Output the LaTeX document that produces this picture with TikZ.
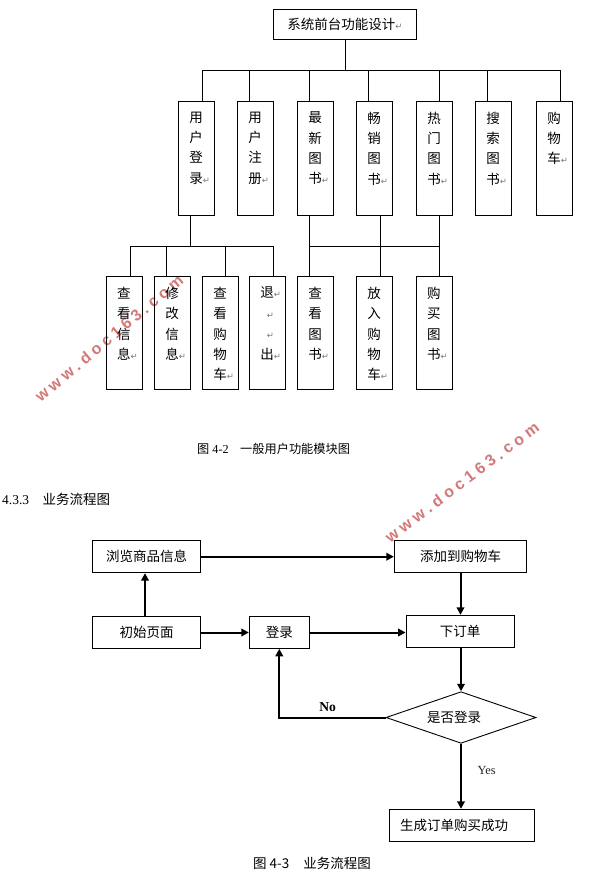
\documentclass[tikz,border=0pt]{standalone}
\usepackage{fontspec}
\setmainfont{Liberation Serif}
\newfontfamily\cjk{Noto Sans CJK SC}
\newfontfamily\symf{DejaVu Sans}
\newfontfamily\wmf[LetterSpace=26]{Liberation Sans}
\usetikzlibrary{arrows.meta,shapes.geometric}
\definecolor{retgray}{RGB}{120,120,120}
\definecolor{wmpink}{RGB}{212,120,120}
\newcommand{\ret}{{\symf\fontsize{8.5}{8.5}\selectfont\textcolor{retgray}{↵}}}
\newcommand{\mkvb}[5]{%
  \node[tbox,minimum height=#4pt] (#1) at (#2,#3) {};
  \node[vt] (#1t) at ([xshift=10.8pt,yshift=-10.5pt]#1.north west) {#5};}
\begin{document}
\begin{tikzpicture}[x=1pt,y=-1pt,
  tbox/.style={draw,line width=0.9pt,inner sep=0pt,anchor=north west,minimum width=36pt},
  vt/.style={inner sep=0pt,anchor=north west,align=left,font=\cjk\fontsize{13.5}{20.4}\selectfont},
  tline/.style={line width=0.9pt},
  fbox/.style={draw,line width=0.9pt,inner sep=0pt,font=\cjk\fontsize{13.5}{16}\selectfont},
  farrow/.style={line width=2pt,-{Triangle[length=7.5pt,width=7.5pt]}},
  captxt/.style={inner sep=0pt,anchor=west},
  wm/.style={text=wmpink,inner sep=0pt,font=\wmf\bfseries\fontsize{16}{16}\selectfont}]
\fill[white] (0,0) rectangle (600,896);
\useasboundingbox (0,0) rectangle (600,896);

% watermarks
\node[wm,rotate=40] (wm1) at (109,338) {www.doc163.com};
\node[wm,rotate=37] (wm2) at (462,482) {www.doc163.com};

% ---------- module tree ----------
\node[draw,line width=0.9pt,inner sep=0pt,minimum width=143.4pt,minimum height=30pt,
      font=\cjk\fontsize{13.5}{16}\selectfont] (top) at (345,24.3) {系统前台功能设计\ret};

\mkvb{u1}{178.3}{101}{114}{用\\户\\登\\录\ret}
\mkvb{u2}{237.3}{101}{114}{用\\户\\注\\册\ret}
\mkvb{u3}{297.3}{101}{114}{最\\新\\图\\书\ret}
\mkvb{u4}{356.3}{101}{114}{畅\\销\\图\\书\ret}
\mkvb{u5}{416.3}{101}{114}{热\\门\\图\\书\ret}
\mkvb{u6}{475.3}{101}{114}{搜\\索\\图\\书\ret}
\mkvb{u7}{536.3}{101}{114}{购\\物\\车\ret}

\mkvb{l1}{106}{276.3}{113}{查\\看\\信\\息\ret}
\mkvb{l2}{154.3}{276.3}{113}{修\\改\\信\\息\ret}
\mkvb{l3}{202.3}{276.3}{113}{查\\看\\购\\物\\车\ret}
\mkvb{l4}{249.3}{276.3}{113}{退\ret\\\hspace*{6.5pt}\ret\\\hspace*{6.5pt}\ret\\出\ret}
\mkvb{l5}{297.3}{276.3}{113}{查\\看\\图\\书\ret}
\mkvb{l6}{356.3}{276.3}{113}{放\\入\\购\\物\\车\ret}
\mkvb{l7}{416}{276.3}{113}{购\\买\\图\\书\ret}

% upper bus
\coordinate (busL) at (202.3,70.3);
\coordinate (busR) at (560.7,70.3);
\draw[tline] (top.south) -- (top.south |- busL);
\draw[tline] (busL) -- (busR);
\foreach \n/\x in {u1/202.3,u2/249.3,u3/309,u4/368.7,u5/439.3,u6/487.7,u7/560.7}{
  \coordinate (j\n) at (\x,70.3);
  \draw[tline] (j\n) -- (j\n |- \n.north);
}
% lower left bus
\coordinate (kU) at (190.7,246);
\coordinate (kL) at (130.7,246);
\coordinate (kR) at (273.7,246);
\draw[tline] (kU |- u1.south) -- (kU);
\draw[tline] (kL) -- (kR);
\foreach \n/\x in {l1/130.7,l2/166.7,l3/225.3,l4/273.7}{
  \coordinate (k\n) at (\x,246);
  \draw[tline] (k\n) -- (k\n |- \n.north);
}
% lower right bus
\coordinate (mL) at (309.2,246);
\coordinate (mR) at (439.3,246);
\draw[tline] (mL) -- (mR);
\foreach \u/\l/\x in {u3/l5/309.2,u4/l6/380.3,u5/l7/439.3}{
  \coordinate (m\l) at (\x,246);
  \draw[tline] (m\l |- \u.south) -- (m\l |- \l.north);
}

% captions
\node[captxt,font=\fontsize{12.2}{14}\selectfont] (cap1) at (197,449) {{\cjk 图} 4-2\hspace{11.5pt}{\cjk 一般用户功能模块图}};
\node[captxt,font=\fontsize{13.5}{15}\selectfont] (h433) at (2,499) {4.3.3\hspace{13.5pt}{\cjk 业务流程图}};

% ---------- flow chart ----------
\node[fbox,minimum width=108.4pt,minimum height=32pt] (br) at (146.5,556.7) {浏览商品信息};
\node[fbox,minimum width=132.4pt,minimum height=32pt] (add) at (460.5,556.7) {添加到购物车};
\node[fbox,minimum width=108.4pt,minimum height=31.6pt] (init) at (146.5,632.5) {初始页面};
\node[fbox,minimum width=60pt,minimum height=31.6pt] (login) at (279.3,632.5) {登录};
\node[fbox,minimum width=108.3pt,minimum height=32pt] (order) at (460.2,631.3) {下订单};
\node[fbox,diamond,aspect=2.9,minimum width=150pt,minimum height=51.6pt] (dia) at (461,717.5) {是否登录\hspace*{14pt}};
\node[fbox,minimum width=144.7pt,minimum height=32.4pt] (gen) at (461.7,825.5) {生成订单购买成功\hspace*{15pt}};

\draw[farrow] (br.east) -- (add.west);
\draw[farrow] ([xshift=-1.5pt]init.north) -- ([xshift=-1.5pt]br.south);
\draw[farrow] (init.east) -- (login.west);
\draw[farrow] (login.east) -- (login.east -| order.west);
\draw[farrow] (add.south) -- (add.south |- order.north);
\draw[farrow] (order.south -| dia.north) -- (dia.north);
\draw[farrow] (dia.south) -- (dia.south |- gen.north);
\draw[farrow] (dia.west) -| (login.south);

\node[font=\bfseries\fontsize{13.6}{14}\selectfont,inner sep=0pt] (no) at (327.7,706.7) {No};
\node[font=\fontsize{12.4}{14}\selectfont,text=black!85,inner sep=0pt] (yes) at (486.7,770) {Yes};

\node[captxt,font=\cjk\fontsize{13.5}{15}\selectfont] (cap2) at (253,863.3) {图 4-3\hspace{14pt}业务流程图};
\end{tikzpicture}
\end{document}
